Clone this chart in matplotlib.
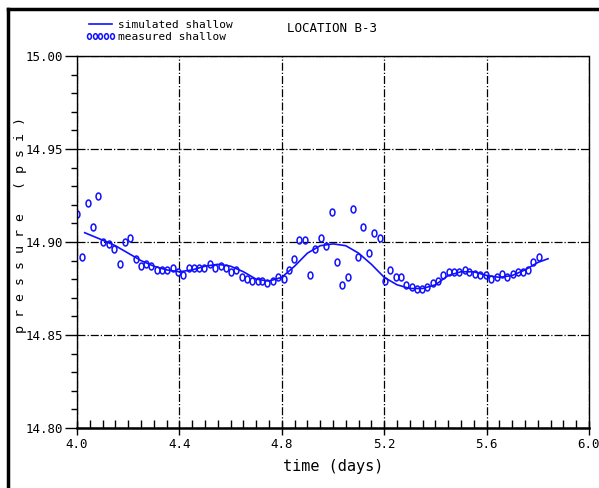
import matplotlib
matplotlib.use("Agg")
import matplotlib.pyplot as plt
from matplotlib.lines import Line2D
from matplotlib.markers import MarkerStyle
from matplotlib.transforms import Affine2D
from matplotlib.ticker import MultipleLocator, FormatStrFormatter

plt.rcParams['font.family'] = ['DejaVu Sans Mono']

# simulated shallow pressure (psi) vs time (days)
sim_days = [4.03, 4.10, 4.15, 4.20, 4.25, 4.30, 4.35, 4.40, 4.45, 4.50,
            4.55, 4.60, 4.65, 4.70, 4.75, 4.80, 4.85, 4.90, 4.95, 5.00,
            5.05, 5.10, 5.15, 5.20, 5.25, 5.30, 5.35, 5.40, 5.45, 5.50,
            5.55, 5.60, 5.65, 5.70, 5.75, 5.80, 5.84]
sim_psi = [14.905, 14.901, 14.898, 14.894, 14.890, 14.887, 14.885, 14.884, 14.885, 14.887,
           14.888, 14.887, 14.884, 14.880, 14.879, 14.881, 14.887, 14.894, 14.898, 14.899,
           14.898, 14.894, 14.888, 14.881, 14.877, 14.875, 14.875, 14.877, 14.882, 14.884,
           14.884, 14.882, 14.881, 14.882, 14.885, 14.889, 14.891]

# measured shallow pressure (psi), half-hourly readings
meas_days = [4.000, 4.021, 4.043, 4.061, 4.082, 4.103, 4.124, 4.146, 4.167, 4.188,
             4.207, 4.229, 4.249, 4.270, 4.290, 4.311, 4.332, 4.353, 4.375, 4.396,
             4.415, 4.438, 4.458, 4.478, 4.497, 4.520, 4.539, 4.561, 4.582, 4.602,
             4.622, 4.643, 4.664, 4.685, 4.706, 4.723, 4.744, 4.765, 4.786, 4.807,
             4.828, 4.847, 4.868, 4.890, 4.911, 4.931, 4.952, 4.973, 4.995, 5.016,
             5.036, 5.057, 5.079, 5.099, 5.118, 5.141, 5.161, 5.184, 5.202, 5.223,
             5.245, 5.264, 5.286, 5.307, 5.328, 5.349, 5.368, 5.389, 5.409, 5.430,
             5.453, 5.473, 5.494, 5.514, 5.533, 5.555, 5.574, 5.598, 5.618, 5.640,
             5.660, 5.681, 5.702, 5.724, 5.744, 5.763, 5.783, 5.805]
meas_psi = [14.915, 14.892, 14.921, 14.908, 14.925, 14.900, 14.899, 14.896, 14.888, 14.900,
            14.902, 14.891, 14.887, 14.888, 14.887, 14.885, 14.885, 14.885, 14.886, 14.884,
            14.882, 14.886, 14.886, 14.886, 14.886, 14.888, 14.886, 14.887, 14.886, 14.884,
            14.885, 14.881, 14.880, 14.879, 14.879, 14.879, 14.878, 14.879, 14.881, 14.880,
            14.885, 14.891, 14.901, 14.901, 14.882, 14.896, 14.902, 14.898, 14.916, 14.889,
            14.877, 14.881, 14.918, 14.892, 14.908, 14.894, 14.905, 14.902, 14.879, 14.885,
            14.881, 14.881, 14.877, 14.876, 14.875, 14.875, 14.876, 14.878, 14.879, 14.882,
            14.884, 14.884, 14.884, 14.885, 14.884, 14.883, 14.882, 14.882, 14.880, 14.881,
            14.883, 14.881, 14.883, 14.884, 14.884, 14.885, 14.889, 14.892]

x_ticks = [4.0, 4.4, 4.8, 5.2, 5.6, 6.0]
y_ticks = [14.80, 14.85, 14.90, 14.95, 15.00]

blue = '#1010ff'

fig = plt.figure(figsize=(5.99, 4.88), dpi=100)
ax = fig.add_axes([77/599, 1 - 428/488, (589 - 77)/599, (428 - 56)/488])

oval = MarkerStyle('o', fillstyle='none', transform=Affine2D().scale(0.7, 1.0))
ax.plot(sim_days, sim_psi, color=blue, lw=1.2, label='simulated shallow')
ax.plot(meas_days, meas_psi, linestyle='none', marker=oval, markersize=5,
        markeredgewidth=1.1, color=blue, label='measured shallow')

ax.set_xlim(4.0, 6.0)
ax.set_ylim(14.80, 15.00)
ax.set_xticks(x_ticks)
ax.set_yticks(y_ticks)
ax.xaxis.set_major_formatter(FormatStrFormatter('%.1f'))
ax.yaxis.set_major_formatter(FormatStrFormatter('%.2f'))
ax.xaxis.set_minor_locator(MultipleLocator(0.05))
ax.yaxis.set_minor_locator(MultipleLocator(0.01))

ax.grid(True, which='major', color='black', linestyle='-.', linewidth=0.9)
ax.tick_params(axis='y', which='major', direction='out', length=9, width=1,
               labelsize=9, pad=1)
ax.tick_params(axis='y', which='minor', direction='out', length=4, width=1)
ax.tick_params(axis='x', which='major', direction='inout', length=10, width=1,
               labelsize=9, pad=2)
ax.tick_params(axis='x', which='minor', direction='in', length=6, width=1)

for side in ('top', 'right'):
    ax.spines[side].set_linestyle((0, (2, 1)))
    ax.spines[side].set_linewidth(1.0)
ax.spines['bottom'].set_linewidth(1.8)
ax.spines['left'].set_linewidth(1.0)

ax.set_xlabel('time (days)', fontsize=11, labelpad=6)
ax.set_ylabel('p r e s s u r e   ( p s i )', fontsize=9.5)
ax.yaxis.set_label_coords(-0.098, 0.545)

ax.legend(loc='upper left', bbox_to_anchor=(86/599, 1 - 20/488),
          bbox_transform=fig.transFigure, frameon=False, numpoints=5,
          markerscale=0.8, handlelength=2.6, handletextpad=0.3,
          labelspacing=0.15, borderaxespad=0, borderpad=0, fontsize=8)

fig.text(287/599, 1 - 28/488, 'LOCATION B-3', fontsize=9, ha='left', va='center')

# outer page frame
fig.add_artist(Line2D([8/599, 8/599], [0, 1 - 9/488], transform=fig.transFigure,
                      color='black', lw=2.5))
fig.add_artist(Line2D([8/599, 1], [1 - 9/488, 1 - 9/488], transform=fig.transFigure,
                      color='black', lw=2.5))

fig.savefig('out.png', dpi=100)
